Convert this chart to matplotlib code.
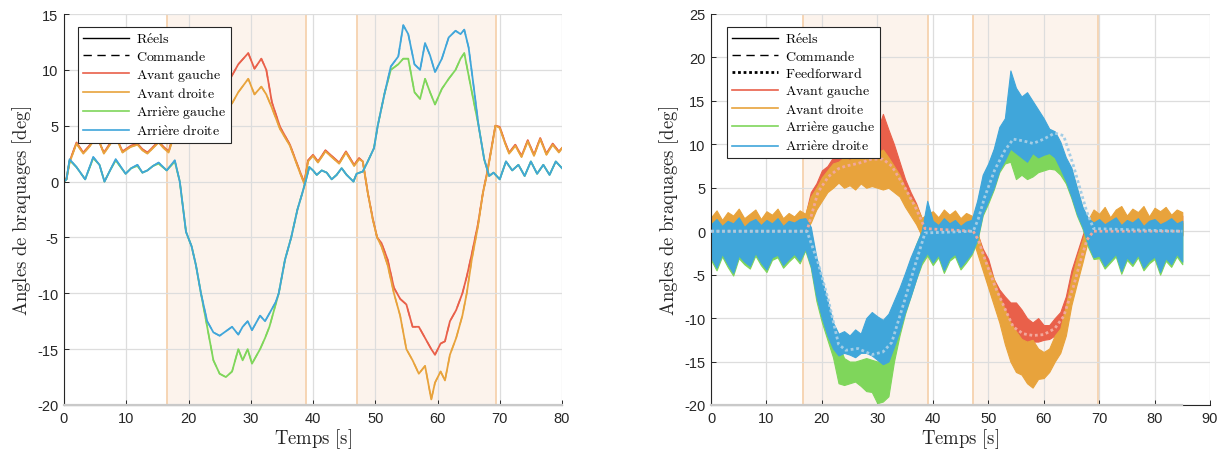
import numpy as np
import matplotlib
matplotlib.use('Agg')
import matplotlib.pyplot as plt
from matplotlib.lines import Line2D

plt.rcParams['mathtext.fontset'] = 'cm'
plt.rcParams['font.family'] = ['Liberation Sans', 'DejaVu Sans']
plt.rcParams['axes.unicode_minus'] = False

# ---------------- left panel : smooth tracking test ----------------
t_front = [0, 0.4, 0.9, 2.0, 3.1, 4.2, 5.3, 6.4, 7.5, 8.3, 9.4, 10.7, 11.8, 12.6, 13.4, 14.3,
           15.2, 16.0, 16.8, 17.6, 18.5, 19.5, 21.0, 22.5, 24.0, 25.0, 26.0, 27.0, 28.0, 29.6,
           30.6, 31.7, 32.5, 33.4, 34.7, 36.3, 37.9, 38.6, 39.2, 40.0, 40.8, 42.0, 43.4, 44.2,
           45.3, 46.6, 47.4, 48.0, 48.8, 49.6, 50.3, 51.0, 52.0, 53.0, 54.0, 55.0, 56.0, 57.0,
           58.0, 59.0, 59.6, 60.5, 61.2, 62.0, 63.0, 64.0, 64.7, 65.5, 66.5, 67.3, 68.0, 68.7,
           69.3, 70.0, 70.8, 71.5, 72.5, 73.5, 74.5, 75.5, 76.5, 77.5, 78.5, 79.5, 80.0]
front_right = [0, 0.2, 1.7, 3.4, 2.5, 3.2, 4.1, 2.5, 3.4, 4.0, 2.6, 3.1, 3.3, 2.8, 2.5, 3.0,
               3.5, 3.0, 2.6, 4.0, 6.0, 7.3, 7.8, 7.5, 8.0, 7.3, 6.6, 7.0, 8.0, 9.2,
               7.8, 8.5, 7.8, 6.6, 4.7, 3.2, 0.8, -0.2, 1.8, 2.3, 1.7, 2.7, 2.0, 1.6,
               2.6, 1.4, 2.0, 1.8, -1.0, -3.4, -5.0, -5.8, -7.5, -10.0, -12.0, -15.0, -16.0, -17.2,
               -16.5, -19.5, -18.0, -17.0, -17.8, -15.5, -14.0, -12.0, -10.0, -7.0, -4.0, -1.0, 0.8, 3.0,
               5.0, 4.8, 3.5, 2.5, 3.2, 2.2, 3.6, 2.3, 3.8, 2.4, 3.3, 2.6, 3.0]
front_left = [0, 0.3, 1.8, 3.5, 2.6, 3.3, 4.0, 2.6, 3.5, 4.1, 2.7, 3.2, 3.4, 2.9, 2.6, 3.1,
              3.6, 3.1, 2.7, 4.2, 6.5, 8.0, 9.0, 9.0, 9.8, 9.0, 8.5, 9.5, 10.5, 11.5,
              10.1, 11.0, 10.0, 7.1, 4.9, 3.3, 0.9, -0.1, 1.9, 2.4, 1.8, 2.8, 2.1, 1.7,
              2.7, 1.5, 2.1, 1.8, -1.0, -3.3, -5.0, -5.5, -7.0, -9.5, -10.5, -11.0, -13.0, -13.0,
              -14.0, -15.0, -15.5, -14.5, -14.3, -12.5, -11.5, -10.0, -8.5, -6.5, -3.8, -1.0, 0.9, 3.1,
              5.0, 4.9, 3.6, 2.6, 3.3, 2.3, 3.7, 2.4, 3.9, 2.5, 3.4, 2.7, 3.0]

t_rear = [0, 0.4, 0.9, 2.0, 3.4, 4.7, 5.7, 6.5, 7.4, 8.3, 9.9, 10.8, 11.8, 12.6, 13.4, 14.3,
          15.2, 16.5, 17.8, 18.6, 19.6, 20.5, 21.2, 22.0, 23.0, 24.0, 25.0, 26.0, 27.0, 28.0,
          28.7, 29.5, 30.2, 31.5, 32.3, 33.0, 34.0, 34.5, 35.5, 36.5, 37.5, 38.3, 38.9, 39.4,
          40.0, 40.6, 41.4, 42.2, 43.0, 43.8, 44.6, 45.4, 46.5, 47.0, 48.0, 48.8, 49.8, 50.4,
          51.5, 52.5, 53.7, 54.5, 55.3, 56.3, 57.2, 58.0, 58.8, 59.6, 60.7, 61.8, 62.9, 63.7,
          64.3, 65.0, 65.7, 66.6, 67.5, 68.3, 69.0, 70.0, 71.0, 72.0, 73.0, 74.0, 75.0, 76.0,
          77.0, 78.0, 79.0, 80.0]
rear_right = [0, 0.2, 2.0, 1.3, 0.2, 2.2, 1.5, 0.0, 1.0, 2.0, 0.7, 1.2, 1.5, 0.8, 1.0, 1.4,
              1.7, 1.0, 1.9, 0.0, -4.5, -5.8, -7.5, -10.0, -12.5, -13.5, -13.8, -13.4, -13.0, -13.7,
              -13.0, -12.5, -13.3, -12.0, -12.5, -11.8, -10.8, -10.0, -7.0, -5.0, -2.5, -1.0, 0.2, 1.3,
              1.0, 0.6, 1.0, 0.8, 0.2, 0.6, 1.2, 0.6, 0.0, 0.7, 0.9, 1.8, 3.0, 5.0,
              7.9, 10.3, 11.2, 14.0, 13.2, 10.5, 10.0, 12.4, 11.3, 9.8, 11.0, 12.9, 13.5, 13.2,
              13.6, 12.0, 9.0, 5.0, 2.0, 0.5, 0.8, 0.2, 1.8, 1.0, 1.5, 0.5, 1.8, 0.7,
              1.5, 0.6, 1.8, 1.2]
rear_left = [0, 0.2, 1.9, 1.3, 0.2, 2.1, 1.5, 0.0, 1.0, 1.9, 0.7, 1.2, 1.4, 0.8, 1.0, 1.4,
             1.6, 1.0, 1.8, 0.0, -4.5, -5.8, -7.5, -10.0, -13.0, -16.0, -17.2, -17.5, -17.0, -15.0,
             -16.0, -15.0, -16.3, -15.0, -14.0, -13.0, -11.0, -10.0, -7.0, -5.0, -2.5, -1.0, 0.2, 1.3,
             1.0, 0.6, 1.0, 0.8, 0.2, 0.6, 1.2, 0.6, 0.0, 0.7, 0.9, 1.8, 3.0, 5.0,
             7.9, 10.0, 10.5, 11.0, 11.0, 8.0, 7.4, 9.2, 8.0, 6.9, 8.3, 9.2, 10.0, 11.0,
             11.5, 9.5, 7.5, 5.0, 2.0, 0.5, 0.8, 0.2, 1.8, 1.0, 1.5, 0.5, 1.8, 0.7,
             1.5, 0.6, 1.8, 1.2]

zones_left = [(16.6, 38.8), (47.0, 69.4)]

# ---------------- right panel : noisy test with feedforward ----------------
t_noisy = np.arange(0, 86)
#                rest 0-16 | turn 17-39 | rest 40-46 | turn 47-69 | rest 70-85
blue_hi = [0.8, 1.4, 0.6, 1.2, 0.9, 1.6, 0.5, 1.1, 1.4, 0.7, 1.3, 0.9, 1.5, 0.6, 1.2, 1.0, 1.4,
           1.5, 0.5, -3.0, -5.5, -8.0, -10.5, -11.8, -11.5, -12.0, -11.3, -11.8, -10.0, -9.3, -9.8,
           -10.2, -9.5, -8.0, -6.5, -4.8, -3.0, -1.5, 0.0, 3.5,
           1.2, 0.7, 1.5, 0.9, 1.3, 0.6, 1.1,
           1.3, 3.5, 6.5, 7.8, 9.5, 12.0, 13.0, 18.5, 16.5, 15.5, 16.0, 15.0, 14.0, 13.0, 11.8,
           11.5, 10.3, 8.5, 7.3, 5.0, 2.8, 1.5, 1.0,
           1.4, 0.8, 1.2, 1.6, 0.7, 1.3, 1.0, 1.5, 0.6, 1.2, 1.4, 0.8, 1.1, 1.5, 0.9, 1.2]
blue_lo = [-3.0, -4.2, -2.6, -3.8, -4.8, -2.8, -3.5, -4.0, -2.5, -3.6, -4.4, -3.0, -2.7, -3.9, -3.2, -2.6, -3.4,
           -2.0, -4.0, -7.5, -10.0, -12.0, -13.5, -14.3, -14.0, -14.2, -14.5, -14.0, -14.0, -14.3, -14.8,
           -15.3, -15.0, -13.3, -11.5, -9.3, -7.5, -5.5, -3.5, -2.5,
           -3.6, -2.7, -4.5, -3.1, -2.6, -4.1, -3.3,
           -2.5, -1.0, 2.0, 3.5, 5.0, 7.0, 8.2, 9.5, 9.0, 8.5, 8.0, 9.0, 8.5, 8.8, 9.0,
           8.5, 7.2, 5.8, 4.0, 2.0, 0.5, -1.5, -3.0,
           -2.8, -4.0, -3.3, -2.6, -4.6, -3.0, -3.7, -2.7, -4.2, -3.4, -2.9, -4.7, -3.1, -3.8, -2.6, -3.5]
green_hi = [0.6, 1.1, 0.4, 1.0, 0.7, 1.3, 0.4, 0.9, 1.2, 0.5, 1.0, 0.7, 1.2, 0.4, 1.0, 0.8, 1.1,
            1.0, 0.0, -3.5, -6.0, -8.5, -11.0, -13.0, -14.6, -15.0, -15.0, -14.8, -14.6, -14.8, -15.0,
            -14.8, -14.6, -12.0, -9.0, -5.5, -3.5, -1.5, 0.0, 2.5,
            1.0, 0.5, 1.2, 0.7, 1.0, 0.4, 0.9,
            1.0, 3.2, 6.0, 7.5, 9.3, 11.5, 12.5, 13.2, 12.5, 11.5, 11.0, 11.5, 10.5, 10.0, 9.5,
            9.5, 9.0, 8.0, 7.0, 4.8, 2.6, 1.3, 0.8,
            1.1, 0.6, 1.0, 1.3, 0.5, 1.0, 0.8, 1.2, 0.4, 1.0, 1.1, 0.6, 0.9, 1.2, 0.7, 1.0]
green_lo = [-3.3, -4.5, -2.9, -4.1, -5.1, -3.1, -3.8, -4.3, -2.8, -3.9, -4.7, -3.3, -3.0, -4.2, -3.5, -2.9, -3.7,
            -2.2, -4.2, -8.0, -10.5, -12.5, -14.5, -17.5, -17.7, -17.5, -17.3, -17.8, -18.4, -18.5, -19.8,
            -19.6, -19.0, -15.0, -12.0, -9.5, -7.5, -5.5, -3.8, -2.8,
            -3.9, -3.0, -4.8, -3.4, -2.9, -4.4, -3.6,
            -2.7, -1.2, 1.8, 3.2, 4.8, 6.8, 7.8, 8.0, 6.0, 6.5, 6.0, 6.3, 6.8, 7.0, 7.2,
            7.1, 6.5, 5.5, 3.8, 1.8, 0.3, -1.8, -3.2,
            -3.1, -4.3, -3.6, -2.9, -4.9, -3.3, -4.0, -3.0, -4.5, -3.7, -3.2, -5.0, -3.4, -4.1, -2.9, -3.8]
orange_hi = [1.6, 2.4, 1.3, 2.2, 1.8, 2.6, 1.5, 2.0, 2.5, 1.4, 2.3, 1.9, 2.6, 1.5, 2.1, 1.7, 2.4,
             2.0, 4.0, 5.0, 6.2, 7.0, 7.8, 8.0, 8.5, 8.2, 8.7, 9.0, 9.2, 9.4, 9.0,
             9.4, 8.5, 7.5, 6.5, 5.0, 3.8, 3.0, 1.5, 2.0,
             2.3, 1.6, 2.5, 1.9, 2.4, 1.5, 2.1,
             1.8, 0.0, -2.5, -4.0, -5.5, -7.5, -9.0, -10.5, -11.5, -12.4, -12.7, -12.5, -13.5, -13.9, -13.5,
             -12.0, -11.2, -8.5, -5.5, -3.0, -1.0, 1.3, 2.5,
             2.0, 2.8, 1.6, 2.5, 2.9, 1.8, 2.6, 2.2, 2.9, 1.7, 2.7, 2.3, 2.8, 1.9, 2.5, 2.2]
orange_lo = [-0.2, -0.4, -0.1, -0.3, -0.5, -0.2, -0.3, -0.4, -0.1, -0.3, -0.5, -0.2, -0.1, -0.4, -0.3, -0.2, -0.3,
             0.0, 1.0, 2.5, 3.5, 4.5, 5.0, 5.6, 5.0, 5.3, 4.8, 5.5, 5.0, 5.2, 5.0,
             4.8, 5.0, 4.5, 4.0, 2.8, 1.8, 0.8, -0.5, -0.5,
             -0.3, -0.2, -0.4, -0.1, -0.3, -0.5, -0.2,
             -0.5, -2.5, -4.5, -6.5, -8.5, -10.5, -13.0, -15.0, -16.2, -16.5, -17.5, -18.0, -17.0, -16.9, -16.2,
             -15.0, -14.0, -12.0, -8.5, -6.0, -3.6, -1.0, 0.0,
             -0.3, -0.1, -0.4, -0.2, -0.3, -0.5, -0.2, -0.1, -0.4, -0.3, -0.2, -0.4, -0.1, -0.3, -0.2, -0.4]
red_hi = [1.2, 2.0, 1.0, 1.8, 1.5, 2.2, 1.1, 1.7, 2.1, 1.0, 1.9, 1.5, 2.2, 1.2, 1.8, 1.4, 2.0,
          1.8, 4.5, 5.5, 7.0, 7.5, 8.5, 8.9, 8.5, 9.3, 8.8, 9.8, 10.2, 10.6, 11.5,
          13.5, 11.7, 10.0, 8.0, 6.0, 4.5, 3.2, 1.5, 1.8,
          1.9, 1.3, 2.1, 1.5, 2.0, 1.2, 1.8,
          1.5, -0.2, -2.0, -3.2, -5.5, -6.7, -7.5, -8.2, -8.2, -9.0, -10.0, -10.5, -10.0, -10.8, -10.8,
          -10.0, -9.3, -7.5, -4.5, -2.5, -0.5, 1.3, 1.8,
          1.7, 2.3, 1.3, 2.1, 2.5, 1.5, 2.2, 1.8, 2.4, 1.4, 2.3, 1.9, 2.4, 1.6, 2.1, 1.8]
red_lo = [-0.3, -0.5, -0.2, -0.4, -0.6, -0.3, -0.4, -0.5, -0.2, -0.4, -0.6, -0.3, -0.2, -0.5, -0.4, -0.3, -0.4,
          0.0, 1.5, 3.0, 4.5, 5.5, 6.0, 6.5, 6.8, 7.0, 7.0, 7.5, 7.5, 8.0, 8.5,
          8.8, 8.0, 7.0, 5.0, 3.5, 2.5, 1.0, -0.5, -0.5,
          -0.4, -0.3, -0.5, -0.2, -0.4, -0.6, -0.3,
          -0.5, -2.0, -4.0, -6.3, -8.0, -8.6, -10.5, -11.2, -12.0, -12.4, -13.1, -12.7, -12.7, -12.5, -12.4,
          -12.0, -11.6, -10.0, -7.5, -5.0, -3.0, -1.0, -0.3,
          -0.4, -0.2, -0.5, -0.3, -0.4, -0.6, -0.3, -0.2, -0.5, -0.4, -0.3, -0.5, -0.2, -0.4, -0.3, -0.5]

t_ff = [0, 17.3, 19.3, 21.2, 23.0, 24.3, 26.5, 29.0, 31.0, 32.6, 35.0, 37.0, 38.6, 47.3, 48.2,
        49.4, 51.2, 53.0, 54.5, 56.3, 58.1, 60.0, 62.0, 63.6, 65.4, 66.6, 67.8, 69.0, 85.0]
ff_front = [0, 0, 4.5, 6.3, 7.2, 7.5, 7.8, 8.3, 8.3, 7.5, 5.0, 2.6, 0.3, 0, -1.0,
            -3.2, -6.3, -8.9, -11.0, -11.8, -12.0, -11.9, -11.2, -9.8, -6.3, -3.5, -1.0, 0, 0]
ff_rear = [0, 0, -3.6, -8.0, -13.0, -13.7, -13.5, -14.2, -13.9, -12.8, -7.8, -3.5, -0.2, 0, 1.4,
           4.0, 7.1, 9.3, 10.6, 10.4, 10.1, 10.6, 11.3, 11.0, 7.5, 4.8, 2.2, 0.3, 0]

zones_right = [(16.6, 39.1), (47.2, 69.8)]

# colours
c_red = '#E9604A'
c_orange = '#E8A33C'
c_green = '#7FD65B'
c_blue = '#40A6DA'
c_ff_front = '#F2A89C'
c_ff_rear = '#A3CDE6'
c_zone = '#FCF3EC'
c_zone_edge = '#F6D2AF'
c_axis = '#262626'
dash = (0, (6, 4))


def tex(s):
    s = s.replace(' ', r'\ ').replace('é', r'\acute{e}').replace('è', r'\grave{e}')
    return r'$\mathrm{' + s + '}$'


def setup(ax, xmax, ymin, ymax, zones, tend):
    ax.set_xlim(0, xmax)
    ax.set_ylim(ymin, ymax)
    ax.set_xticks(np.arange(0, xmax + 1, 10))
    ax.set_yticks(np.arange(ymin, ymax + 1, 5))
    ax.grid(True, color='#dddddd', lw=0.9)
    ax.set_axisbelow('line')
    for s in ['top', 'right']:
        ax.spines[s].set_visible(False)
    for s in ['left', 'bottom']:
        ax.spines[s].set_color(c_axis)
        ax.spines[s].set_linewidth(0.8)
    ax.tick_params(direction='in', length=3.5, width=0.7, labelsize=10.5,
                   colors=c_axis, pad=4)
    for a, b in zones:
        ax.axvspan(a, b, facecolor=c_zone, edgecolor=c_zone_edge, lw=1.3, zorder=0.5)
    # light line drawn along the bottom axis over the data range
    ax.plot([0, tend], [ymin, ymin], color='#c9c9c9', lw=1.6, clip_on=False, zorder=3)
    ax.set_xlabel(tex('Temps [s]'), fontsize=13.5, color=c_axis, labelpad=1)
    ax.set_ylabel(tex('Angles de braquages [deg]'), fontsize=13.5, color=c_axis, labelpad=2)


fig = plt.figure(figsize=(12.24, 4.56), dpi=100)
ax1 = fig.add_axes([64 / 1224, 50 / 456, 498 / 1224, 391 / 456])
ax2 = fig.add_axes([711 / 1224, 50 / 456, 499 / 1224, 391 / 456])

# ---- left ----
setup(ax1, 80, -20, 15, zones_left, t_front[-1])
for t, y, c in [(t_front, front_left, c_red), (t_front, front_right, c_orange),
                (t_rear, rear_left, c_green), (t_rear, rear_right, c_blue)]:
    ax1.plot(t, y, color=c, lw=1.0, ls=dash, zorder=2)
for t, y, c in [(t_front, front_left, c_red), (t_front, front_right, c_orange),
                (t_rear, rear_left, c_green), (t_rear, rear_right, c_blue)]:
    ax1.plot(t, y, color=c, lw=1.3, zorder=2.1)

names = ['Avant gauche', 'Avant droite', 'Arrière gauche', 'Arrière droite']
cols = [c_red, c_orange, c_green, c_blue]
h1 = [Line2D([], [], color='k', lw=1.0), Line2D([], [], color='k', lw=1.0, ls=dash)]
h1 += [Line2D([], [], color=c, lw=1.2) for c in cols]
leg = ax1.legend(h1, [tex(s) for s in ['Réels', 'Commande'] + names],
                 loc='upper left', bbox_to_anchor=(14 / 498, 1 - 13 / 391), borderaxespad=0,
                 fontsize=10, fancybox=False, framealpha=1, edgecolor=c_axis,
                 handlelength=3.3, handletextpad=0.5, labelspacing=0.22, borderpad=0.35)
leg.get_frame().set_linewidth(0.8)
leg.set_zorder(5)

# ---- right ----
setup(ax2, 90, -20, 25, zones_right, t_ff[-1])
for lo, hi, c in [(red_lo, red_hi, c_red), (orange_lo, orange_hi, c_orange),
                  (green_lo, green_hi, c_green), (blue_lo, blue_hi, c_blue)]:
    ax2.fill_between(t_noisy, lo, hi, facecolor=c, edgecolor=c, lw=0.8, zorder=2)
ax2.plot(t_ff, ff_front, color=c_ff_front, lw=2.0, ls=(0, (1, 1)), zorder=3)
ax2.plot(t_ff, ff_rear, color=c_ff_rear, lw=2.0, ls=(0, (1, 1)), zorder=3)

h2 = [Line2D([], [], color='k', lw=1.0), Line2D([], [], color='k', lw=1.0, ls=dash),
      Line2D([], [], color='k', lw=2.0, ls=(0, (1, 1)))]
h2 += [Line2D([], [], color=c, lw=1.2) for c in cols]
leg = ax2.legend(h2, [tex(s) for s in ['Réels', 'Commande', 'Feedforward'] + names],
                 loc='upper left', bbox_to_anchor=(16 / 499, 1 - 13 / 391), borderaxespad=0,
                 fontsize=10, fancybox=False, framealpha=1, edgecolor=c_axis,
                 handlelength=3.3, handletextpad=0.5, labelspacing=0.2, borderpad=0.35)
leg.get_frame().set_linewidth(0.8)
leg.set_zorder(5)

fig.savefig('out.png', dpi=100)
